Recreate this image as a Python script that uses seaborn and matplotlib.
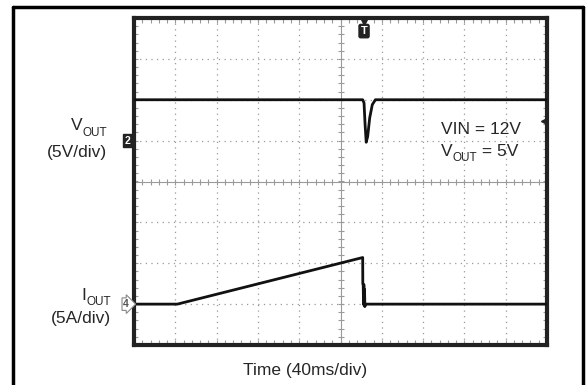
import numpy as np
import pandas as pd
import matplotlib
matplotlib.use("Agg")
import matplotlib.pyplot as plt
from matplotlib.lines import Line2D
import seaborn as sns

# oscilloscope capture: time in ms, VOUT in V, IOUT in A
t_vout = [0, 221.5, 222.8, 223.8, 224.9, 226.3, 228.3, 230.8, 233.8, 400]
vout   = [5.0, 5.0, 4.6, 2.0, -0.2, 0.5, 2.8, 4.4, 5.0, 5.0]

t_iout = [0, 42, 221.5, 221.6, 222.0, 222.3, 222.6, 223.0, 223.3, 223.6, 224.0, 400]
iout   = [0.0, 0.0, 5.7, 2.5, 2.3, 0.0, 2.4, -0.2, 1.8, -0.3, 0.0, 0.0]

T_PER_DIV = 40   # ms/div
V_PER_DIV = 5    # V/div
I_PER_DIV = 5    # A/div
V_REF = 1        # ch2 ground marker (div)
I_REF = -3       # ch4 ground marker (div)
T_TRIG = 222.8

sns.set_style("white")
plt.rcParams["font.family"] = ["Liberation Sans", "DejaVu Sans"]
plt.rcParams["mathtext.fontset"] = "custom"
plt.rcParams["mathtext.rm"] = "Liberation Sans"

fig = plt.figure(figsize=(5.86, 3.85), dpi=100)
W, H = 586, 385
ax = fig.add_axes([134 / W, 1 - 345 / H, 413 / W, 327 / H])

dv = pd.DataFrame({"x": np.array(t_vout) / T_PER_DIV,
                   "y": V_REF + np.array(vout) / V_PER_DIV})
di = pd.DataFrame({"x": np.array(t_iout) / T_PER_DIV,
                   "y": I_REF + np.array(iout) / I_PER_DIV})

# grid
gcol = "#9a9a9a"
for gx in range(1, 10):
    if gx == 5:
        continue
    ax.axvline(gx, color=gcol, lw=0.9, ls=(0, (1, 3.5)), zorder=1)
for gy in range(-3, 4):
    if gy == 0:
        continue
    ax.axhline(gy, color=gcol, lw=0.9, ls=(0, (1, 3.5)), zorder=1)
ax.axhline(0, color=gcol, lw=0.8, zorder=1)
ax.axvline(5, color=gcol, lw=0.8, zorder=1)
mt_x = np.arange(0, 10.01, 0.2)
mt_y = np.arange(-4, 4.01, 0.2)
ax.plot(mt_x, np.zeros_like(mt_x), ls="none", marker="|", ms=5, mew=0.8, color=gcol, zorder=1)
ax.plot(np.full_like(mt_y, 5), mt_y, ls="none", marker="_", ms=5, mew=0.8, color=gcol, zorder=1)
for edge in (0.03, 9.97):
    ax.plot(np.full_like(mt_y, edge), mt_y, ls="none", marker="_", ms=4, mew=0.8, color=gcol, zorder=1)
for edge in (-3.96, 3.96):
    ax.plot(mt_x, np.full_like(mt_x, edge), ls="none", marker="|", ms=4, mew=0.8, color=gcol, zorder=1)

sns.lineplot(data=dv, x="x", y="y", ax=ax, color="#111111", lw=2.0, sort=False, zorder=3)
sns.lineplot(data=di, x="x", y="y", ax=ax, color="#111111", lw=2.0, sort=False, zorder=3)

ax.set_xlim(0, 10)
ax.set_ylim(-4, 4)
ax.set_xticks([]); ax.set_yticks([])
ax.set_xlabel(""); ax.set_ylabel("")
for s in ax.spines.values():
    s.set_visible(True)
    s.set_color("#222222")
    s.set_linewidth(3)

# trigger marker
ax.plot([T_TRIG / T_PER_DIV], [3.93], marker="v", ms=6, color="#222222", clip_on=False, zorder=5)
ax.text(T_TRIG / T_PER_DIV, 3.68, "T", ha="center", va="center", color="white", fontsize=8,
        fontweight="bold", zorder=6,
        bbox=dict(boxstyle="round,pad=0.15", fc="#222222", ec="#222222"))
# small arrow on right edge
ax.plot([9.93], [1.48], marker="<", ms=4, color="#222222", zorder=5)

# channel markers
ax.text(-0.16, V_REF, "2", ha="center", va="center", color="white", fontsize=7.5, fontweight="bold",
        bbox=dict(boxstyle="square,pad=0.12", fc="#222222", ec="#222222"), clip_on=False)
ax.text(-0.19, I_REF, "4", ha="center", va="center", color="#555555", fontsize=7.5, fontweight="bold",
        bbox=dict(boxstyle="rarrow,pad=0.12", fc="white", ec="#888888", lw=0.8), clip_on=False)

fs = 12.5
sub = 8.5


def label_sub(x, y, main, subs, rest="", ha="left"):
    # main letter, lowered small subscript, optional trailing text
    r = fig.canvas.get_renderer()
    t1 = fig.text(0, 0, main, fontsize=fs)
    t2 = fig.text(0, 0, subs, fontsize=sub)
    t3 = fig.text(0, 0, rest, fontsize=fs)
    w1 = t1.get_window_extent(r).width
    w2 = t2.get_window_extent(r).width
    w3 = t3.get_window_extent(r).width if rest else 0
    total = w1 + w2 + w3
    x0 = x - total if ha == "right" else x
    t1.set_position((x0 / W, 1 - y / H)); t1.set_va("center")
    t2.set_position(((x0 + w1) / W, 1 - (y + 7) / H)); t2.set_va("center")
    t3.set_position(((x0 + w1 + w2) / W, 1 - y / H)); t3.set_va("center")


label_sub(107, 126, "V", "OUT", ha="right")
fig.text(107 / W, 1 - 152 / H, "(5V/div)", ha="right", va="center", fontsize=fs)
label_sub(111, 295, "I", "OUT", ha="right")
fig.text(111 / W, 1 - 319 / H, "(5A/div)", ha="right", va="center", fontsize=fs)
fig.text(441 / W, 1 - 129 / H, "VIN = 12V", ha="left", va="center", fontsize=fs)
label_sub(441, 151, "V", "OUT", " = 5V")
fig.text(305 / W, 1 - 370 / H, "Time (40ms/div)", ha="center", va="center", fontsize=fs)

# outer border (open at the bottom)
bx0, bx1, by = 12.5 / W, 583 / W, 1 - 7 / H
kw = dict(color="black", lw=2.5, transform=fig.transFigure)
fig.add_artist(Line2D([bx0, bx0], [0, by], **kw))
fig.add_artist(Line2D([bx1, bx1], [0, by], **kw))
fig.add_artist(Line2D([bx0, bx1], [by, by], **kw))

fig.savefig("out.png", dpi=100)
